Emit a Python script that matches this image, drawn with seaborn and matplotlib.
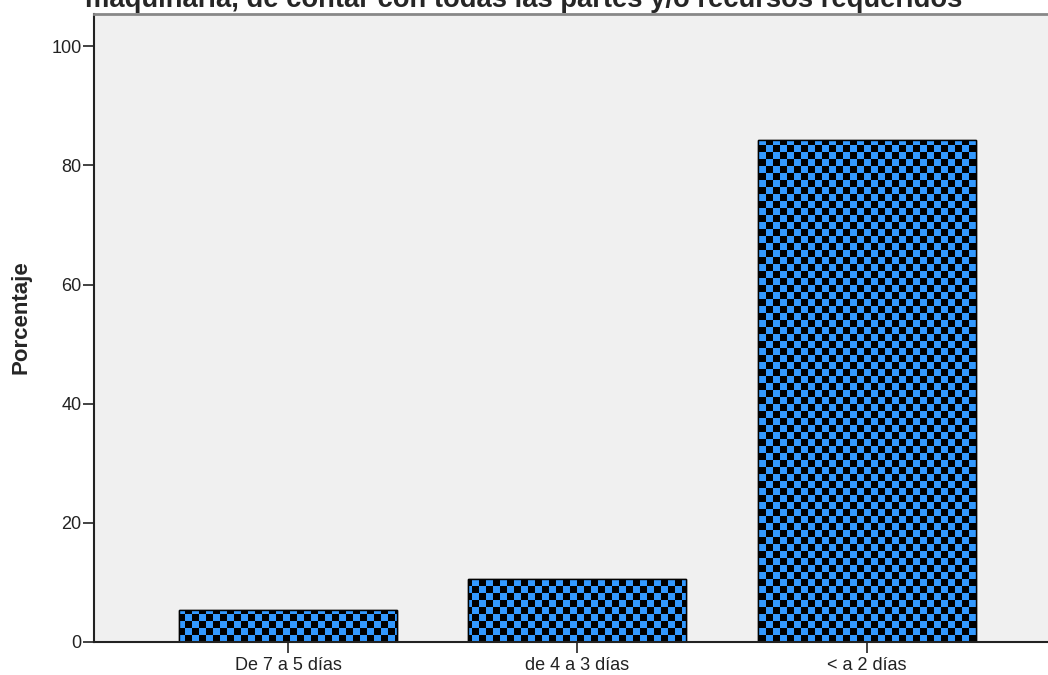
import numpy as np
import pandas as pd
import matplotlib
matplotlib.use('Agg')
import matplotlib.pyplot as plt
import seaborn as sns

# Datos
categorias = ['De 7 a 5 días', 'de 4 a 3 días', '< a 2 días']
porcentajes = [5.3, 10.5, 84.2]
titulo = 'maquinaria, de contar con todas las partes y/o recursos requeridos'

df = pd.DataFrame({'Plazo': categorias, 'Porcentaje': porcentajes})

sns.set_style('white')
plt.rcParams['font.family'] = ['Liberation Sans', 'DejaVu Sans']

fig = plt.figure(figsize=(10.48, 6.75), dpi=100)
ax = fig.add_axes([94 / 1048, 33 / 675, 962 / 1048, 628 / 675])
ax.set_facecolor('#F0F0F0')

sns.barplot(data=df, x='Plazo', y='Porcentaje', color='#3399FF',
            width=0.753, edgecolor='black', linewidth=1.0, saturation=1, ax=ax)

ax.set_xlim(-0.670, 2.653)
ax.set_ylim(0, 105.4)

# patron de tablero de ajedrez recortado a cada barra
x0, x1 = ax.get_xlim()
y0, y1 = ax.get_ylim()
w_px, h_px = 962, 628
cell = 7
yy, xx = np.mgrid[0:h_px, 0:w_px]
checker = ((xx // cell + yy // cell) % 2).astype(float)
cmap = matplotlib.colors.ListedColormap(['#3399FF', 'black'])
for bar in ax.patches:
    im = ax.imshow(checker, extent=(x0, x1, y0, y1), origin='lower', cmap=cmap,
                   interpolation='nearest', aspect='auto', zorder=bar.get_zorder() + 0.1)
    im.set_clip_path(bar)
    borde = plt.Rectangle(bar.get_xy(), bar.get_width(), bar.get_height(),
                          fill=False, edgecolor='black', linewidth=1.0,
                          zorder=bar.get_zorder() + 0.2)
    ax.add_patch(borde)
ax.set_xlim(x0, x1)
ax.set_ylim(y0, y1)

ax.set_yticks([0, 20, 40, 60, 80, 100])
ax.tick_params(axis='y', direction='out', length=8, width=1.2, pad=1,
               colors='#222222', labelsize=13, left=True)
ax.tick_params(axis='x', direction='out', length=8, width=1.2, pad=3,
               colors='#222222', labelsize=13, bottom=True)
ax.set_xlabel('')
ax.set_ylabel('Porcentaje', fontsize=16, fontweight='bold')
ax.yaxis.set_label_coords(-0.0645, 0.5175)

for lado in ['left', 'bottom']:
    ax.spines[lado].set_color('#222222')
    ax.spines[lado].set_linewidth(1.5)
ax.spines['top'].set_color('#888888')
ax.spines['top'].set_linewidth(2)
ax.spines['right'].set_visible(False)

fig.text(524 / 1048, 1.0, titulo, ha='center', va='center',
         fontsize=19.7, fontweight='bold')

fig.savefig('out.png', dpi=100)
